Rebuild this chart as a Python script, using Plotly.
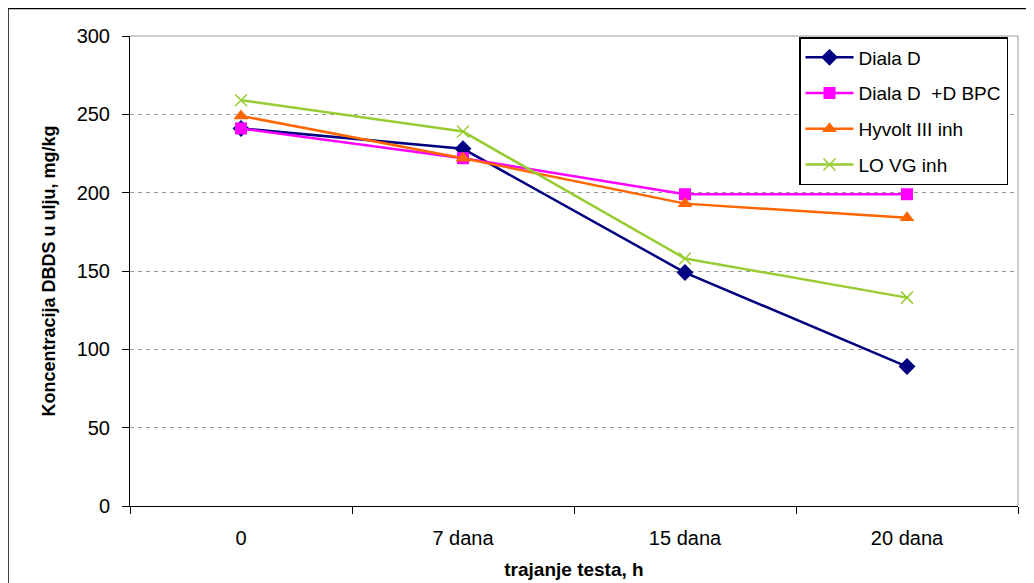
import plotly.graph_objects as go

categories = ["0", "7 dana", "15 dana", "20 dana"]
diala_d = [241, 228, 149, 89]
diala_dbpc = [241, 222, 199, 199]
hyvolt = [249, 222, 193, 184]
lo_vg = [259, 239, 158, 133]

series = [
    ("Diala D", diala_d, "#000080", "diamond", 13),
    ("Diala D  +D BPC", diala_dbpc, "#FF00FF", "square", 12),
    ("Hyvolt III inh", hyvolt, "#FF6600", "triangle-up", 13),
    ("LO VG inh", lo_vg, "#99CC33", "x-thin-open", 12),
]

REG = "Liberation Sans, Arial, sans-serif"

fig = go.Figure()
for i, (name, vals, color, sym, size) in enumerate(series):
    fig.add_trace(go.Scatter(
        x=categories, y=vals, name=name, mode="lines+markers", legendgroup=f"g{i}",
        line=dict(color=color, width=2.5),
        marker=dict(symbol=sym, size=size, color=color,
                    line=dict(color=color, width=1.5 if sym.startswith("x") else 0)),
    ))

# page has an 8px body margin; figure placed at (8, 8)
W, H = 1026, 575
L, R, T, B = 122, 16, 28, 77
pw, ph = W - L - R, H - T - B

fig.update_layout(
    width=W, height=H,
    margin=dict(l=L, r=R, t=T, b=B),
    paper_bgcolor="white", plot_bgcolor="white",
    font=dict(family=REG, size=14, color="black"),
    showlegend=True,
    legend=dict(
        x=(799 - 130) / pw, y=(506 - 37) / ph, xanchor="left", yanchor="top",
        bgcolor="white", bordercolor="black", borderwidth=1.5,
        font=dict(size=19, family=REG),
        tracegroupgap=8, itemwidth=48,
    ),
    xaxis=dict(
        type="category", showgrid=False, showline=True, linecolor="black", linewidth=1,
        ticks="outside", tickson="boundaries", ticklen=7, tickcolor="black",
        range=[-0.5, 3.5], ticklabelstandoff=14, automargin=False,
        title=dict(text="<b>trajanje testa, h</b>", font=dict(size=19, family=REG), standoff=14),
        tickfont=dict(size=20, family=REG),
    ),
    yaxis=dict(
        range=[0, 300], tickvals=[0, 50, 100, 150, 200, 250, 300],
        showgrid=True, gridcolor="#999999", griddash="4px,4px", gridwidth=1,
        showline=True, linecolor="black", linewidth=1, automargin=False,
        ticks="outside", ticklen=7, tickcolor="black", ticklabelstandoff=8,
        title=dict(text="<b>Koncentracija DBDS u ulju, mg/kg</b>",
                   font=dict(size=18, family=REG), standoff=16),
        tickfont=dict(size=20, family=REG), zeroline=False,
    ),
    shapes=[
        dict(type="line", xref="paper", yref="paper", x0=0, x1=1, y0=1, y1=1,
             line=dict(color="#999999", width=1)),
        dict(type="line", xref="paper", yref="paper", x0=1, x1=1, y0=0, y1=1,
             line=dict(color="#999999", width=1)),
        dict(type="rect", xref="paper", yref="paper",
             x0=(0 - L) / pw, x1=(1022 - L) / pw,
             y0=(H - B - 620) / ph, y1=(H - B - 0.5) / ph,
             line=dict(color="black", width=1.5), fillcolor="rgba(0,0,0,0)", layer="below"),
    ],
)

fig.write_html("out.html")
